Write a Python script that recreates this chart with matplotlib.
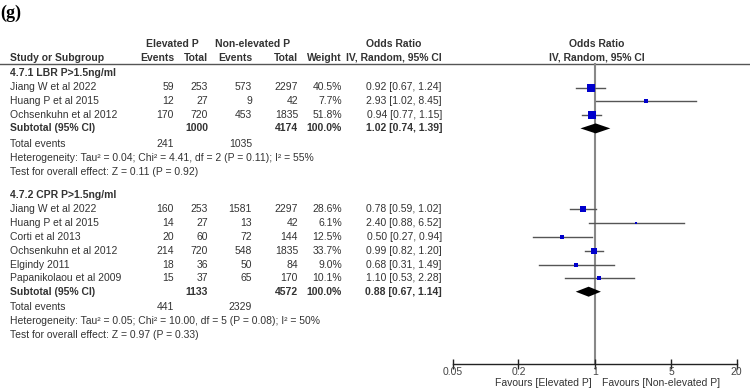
import numpy as np
import matplotlib
matplotlib.use("Agg")
import matplotlib.pyplot as plt
from matplotlib.ticker import FixedLocator, NullLocator

plt.rcParams['font.family'] = ['Liberation Sans', 'DejaVu Sans']

# ---- data ----
g1_title = "4.7.1 LBR P>1.5ng/ml"
g1_study = ["Jiang W et al 2022", "Huang P et al 2015", "Ochsenkuhn et al 2012"]
g1_ev_e = [59, 12, 170]
g1_tot_e = [253, 27, 720]
g1_ev_n = [573, 9, 453]
g1_tot_n = [2297, 42, 1835]
g1_weight = [40.5, 7.7, 51.8]
g1_or = [0.92, 2.93, 0.94]
g1_lo = [0.67, 1.02, 0.77]
g1_hi = [1.24, 8.45, 1.15]
g1_sub = (1000, 4174, 1.02, 0.74, 1.39)
g1_events = (241, 1035)
g1_het = "Heterogeneity: Tau² = 0.04; Chi² = 4.41, df = 2 (P = 0.11); I² = 55%"
g1_test = "Test for overall effect: Z = 0.11 (P = 0.92)"

g2_title = "4.7.2 CPR P>1.5ng/ml"
g2_study = ["Jiang W et al 2022", "Huang P et al 2015", "Corti et al 2013",
            "Ochsenkuhn et al 2012", "Elgindy 2011", "Papanikolaou et al 2009"]
g2_ev_e = [160, 14, 20, 214, 18, 15]
g2_tot_e = [253, 27, 60, 720, 36, 37]
g2_ev_n = [1581, 13, 72, 548, 50, 65]
g2_tot_n = [2297, 42, 144, 1835, 84, 170]
g2_weight = [28.6, 6.1, 12.5, 33.7, 9.0, 10.1]
g2_or = [0.78, 2.40, 0.50, 0.99, 0.68, 1.10]
g2_lo = [0.59, 0.88, 0.27, 0.82, 0.31, 0.53]
g2_hi = [1.02, 6.52, 0.94, 1.20, 1.49, 2.28]
g2_sub = (1133, 4572, 0.88, 0.67, 1.14)
g2_events = (441, 2329)
g2_het = "Heterogeneity: Tau² = 0.05; Chi² = 10.00, df = 5 (P = 0.08); I² = 50%"
g2_test = "Test for overall effect: Z = 0.97 (P = 0.33)"

ticks = [0.05, 0.2, 1, 5, 20]
tick_labels = ["0.05", "0.2", "1", "5", "20"]

groups = [
    (g1_title, g1_study, g1_ev_e, g1_tot_e, g1_ev_n, g1_tot_n, g1_weight,
     g1_or, g1_lo, g1_hi, g1_sub, g1_events, g1_het, g1_test),
    (g2_title, g2_study, g2_ev_e, g2_tot_e, g2_ev_n, g2_tot_n, g2_weight,
     g2_or, g2_lo, g2_hi, g2_sub, g2_events, g2_het, g2_test),
]

# ---- layout (pixel units, figure 750x390) ----
W, H = 750, 390
TXT = '#333333'
FS = 7.5
x_name = 10
x_ev_e, x_tot_e, x_ev_n, x_tot_n, x_wt, x_or = 174, 208, 252, 298, 342, 442
x_plot0, x_plot1 = 452.7, 736.7
y_axis, y_top = 364, 64

fig = plt.figure(figsize=(W / 100, H / 100), dpi=100)
tab = fig.add_axes([0, 0, 1, 1])
tab.set_xlim(0, W)
tab.set_ylim(H, 0)
tab.axis('off')

fp = fig.add_axes([x_plot0 / W, (H - y_axis) / H, (x_plot1 - x_plot0) / W, y_axis / H])
fp.set_xscale('log')
fp.set_xlim(0.05, 20)
fp.set_ylim(y_axis, 0)
fp.patch.set_visible(False)
for s in ['top', 'left', 'right']:
    fp.spines[s].set_visible(False)
fp.spines['bottom'].set_color('#222222')
fp.spines['bottom'].set_linewidth(1.0)
fp.yaxis.set_major_locator(NullLocator())
fp.xaxis.set_major_locator(FixedLocator(ticks))
fp.xaxis.set_minor_locator(NullLocator())
fp.set_xticklabels(tick_labels)
fp.tick_params(axis='x', direction='inout', length=7, width=1, color='#222222',
               labelsize=FS, labelcolor='#444444', pad=-1.5)


def txt(x, y, s, ha='left', bold=False, **kw):
    tab.text(x, y, s, ha=ha, va='center', fontsize=FS, color=TXT,
             fontweight='bold' if bold else 'normal', **kw)


# header
tab.text(0, 13, "(g)", ha='left', va='center', fontsize=13, fontweight='bold',
         family='Liberation Serif', color='black')
txt(172, 44, "Elevated P", ha='center', bold=True)
txt(253, 44, "Non-elevated P", ha='center', bold=True)
txt(394, 44, "Odds Ratio", ha='center', bold=True)
txt(597, 44, "Odds Ratio", ha='center', bold=True)
txt(x_name, 58, "Study or Subgroup", bold=True)
txt(x_ev_e, 58, "Events", ha='right', bold=True)
txt(x_tot_e, 58, "Total", ha='right', bold=True)
txt(x_ev_n, 58, "Events", ha='right', bold=True)
txt(x_tot_n, 58, "Total", ha='right', bold=True)
txt(x_wt, 58, "Weight", ha='right', bold=True)
txt(394, 58, "IV, Random, 95% CI", ha='center', bold=True)
txt(597, 58, "IV, Random, 95% CI", ha='center', bold=True)
tab.plot([0, W], [y_top, y_top], color='#555555', lw=1.0)

# null line
fp.plot([1, 1], [y_top, y_axis], color='#888888', lw=1.5, zorder=1)

y = 73
for (title, study, ev_e, tot_e, ev_n, tot_n, wt, orv, lo, hi, sub, events, het, test) in groups:
    txt(x_name, y, title, bold=True)
    y += 14.5
    for i in range(len(study)):
        txt(x_name, y, study[i])
        txt(x_ev_e, y, str(ev_e[i]), ha='right')
        txt(x_tot_e, y, str(tot_e[i]), ha='right')
        txt(x_ev_n, y, str(ev_n[i]), ha='right')
        txt(x_tot_n, y, str(tot_n[i]), ha='right')
        txt(x_wt, y, f"{wt[i]:.1f}%", ha='right')
        txt(x_or, y, f"{orv[i]:.2f} [{lo[i]:.2f}, {hi[i]:.2f}]", ha='right')
        fp.plot([lo[i], hi[i]], [y, y], color='#555555', lw=1.0, zorder=2)
        fp.plot(orv[i], y, marker='s', color='#0000CC', mec='#0000CC', mew=0,
                ms=0.72 * 1.15 * np.sqrt(wt[i]), zorder=3)
        y += 13.8
    y -= 0.5
    txt(x_name, y, "Subtotal (95% CI)", bold=True)
    txt(x_tot_e, y, str(sub[0]), ha='right', bold=True)
    txt(x_tot_n, y, str(sub[1]), ha='right', bold=True)
    txt(x_wt, y, "100.0%", ha='right', bold=True)
    txt(x_or, y, f"{sub[2]:.2f} [{sub[3]:.2f}, {sub[4]:.2f}]", ha='right', bold=True)
    fp.fill([sub[3], sub[2], sub[4], sub[2]], [y, y - 5, y, y + 5], color='black',
            lw=0, zorder=3)
    y += 15.5
    txt(x_name, y, "Total events")
    txt(x_ev_e, y, str(events[0]), ha='right')
    txt(x_ev_n, y, str(events[1]), ha='right')
    y += 14
    txt(x_name, y, het)
    y += 14
    txt(x_name, y, test)
    y += 23

tab.text(592, 382.5, "Favours [Elevated P]", ha='right', va='center', fontsize=FS, color=TXT)
tab.text(602, 382.5, "Favours [Non-elevated P]", ha='left', va='center', fontsize=FS, color=TXT)

fig.savefig("out.png", dpi=100)
